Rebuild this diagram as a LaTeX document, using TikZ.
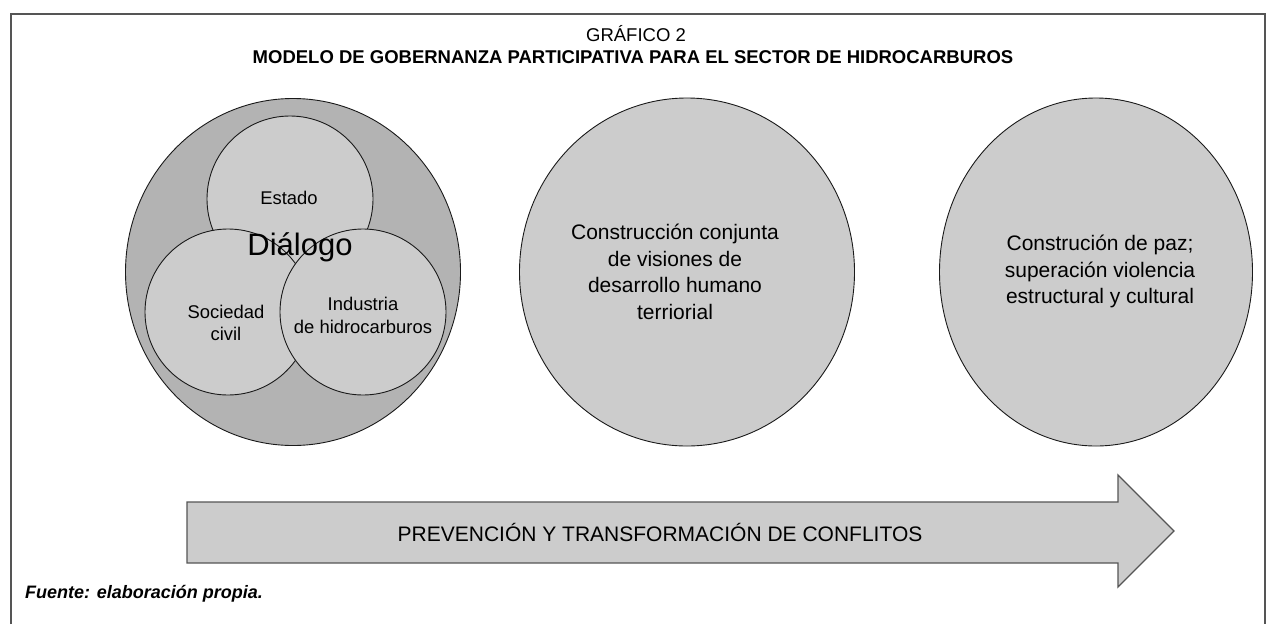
\documentclass[tikz,border=0pt]{standalone}
\usepackage{fontspec}
\setmainfont{Liberation Sans}
\usetikzlibrary{shapes.geometric}
\definecolor{framec}{HTML}{555555}
\definecolor{darkfill}{HTML}{B3B3B3}
\definecolor{lightfill}{HTML}{CCCCCC}
\definecolor{edgec}{HTML}{1A1A1A}
\tikzset{
  bubble/.style={ellipse, draw=edgec, line width=0.9pt, fill=lightfill, inner sep=0pt},
  smalltxt/.style={font=\fontsize{18.4}{22.5}\selectfont, align=center},
  bigtxt/.style={font=\fontsize{21}{26.7}\selectfont, align=center},
}
\begin{document}
\begin{tikzpicture}[x=1pt,y=-1pt]
\useasboundingbox (0,0) rectangle (1266,624);
% frame
\draw[framec, line width=2pt] (11,624) -- (11,14) -- (1265,14) -- (1265,624);
% titles
\node[font=\fontsize{18.5}{20}\selectfont] (gr) at (636,34) {GRÁFICO 2};
\node[font=\bfseries\fontsize{18.5}{20}\selectfont] (title) at (633,57) {MODELO DE GOBERNANZA PARTICIPATIVA PARA EL SECTOR DE HIDROCARBUROS};
% left cluster
\node[ellipse, draw=edgec, line width=0.9pt, fill=darkfill, minimum width=335pt, minimum height=347pt, inner sep=0pt] (outer) at (293,272) {};
\node[bubble, minimum width=166pt, minimum height=166pt] (estado) at (290,199) {};
\node[bubble, minimum width=166pt, minimum height=166pt] (soc) at (228,312) {};
\node[bubble, minimum width=166pt, minimum height=166pt] (ind) at (363,312) {};
\node[smalltxt] (estadot) at (289,198) {Estado};
\node[smalltxt] (soct) at (226,323) {Sociedad\\civil};
\node[smalltxt] (indt) at (363,315.5) {Industria\\de hidrocarburos};
\node[font=\fontsize{31}{34}\selectfont] (dial) at (300,247) {Diálogo};
% middle
\node[bubble, minimum width=335pt, minimum height=348pt] (mid) at (687,272) {};
\node[bigtxt] (midt) at (675,272) {Construcción conjunta\\de visiones de\\desarrollo humano\\terriorial};
% right
\node[bubble, minimum width=313pt, minimum height=348pt] (right) at (1096,272) {};
\node[bigtxt] (rightt) at (1100,271.5) {Construción de paz;\\superación violencia\\estructural y cultural};
% arrow
\coordinate (a1) at (187,502);
\coordinate (a2) at (1118,502);
\coordinate (a3) at (1118,475);
\coordinate (a4) at (1174,531);
\coordinate (a5) at (1118,587);
\coordinate (a6) at (1118,563);
\coordinate (a7) at (187,563);
\draw[fill=lightfill, draw=framec, line width=1.3pt, line join=miter] (a1) -- (a2) -- (a3) -- (a4) -- (a5) -- (a6) -- (a7) -- cycle;
\node[font=\fontsize{21}{23}\selectfont] (arrt) at (660,532) {PREVENCIÓN Y TRANSFORMACIÓN DE CONFLITOS};
% source
\node[font=\bfseries\itshape\fontsize{18}{20}\selectfont, anchor=west, inner sep=0pt] (src) at (25,594) {Fuente: elaboración propia.};
\end{tikzpicture}
\end{document}
